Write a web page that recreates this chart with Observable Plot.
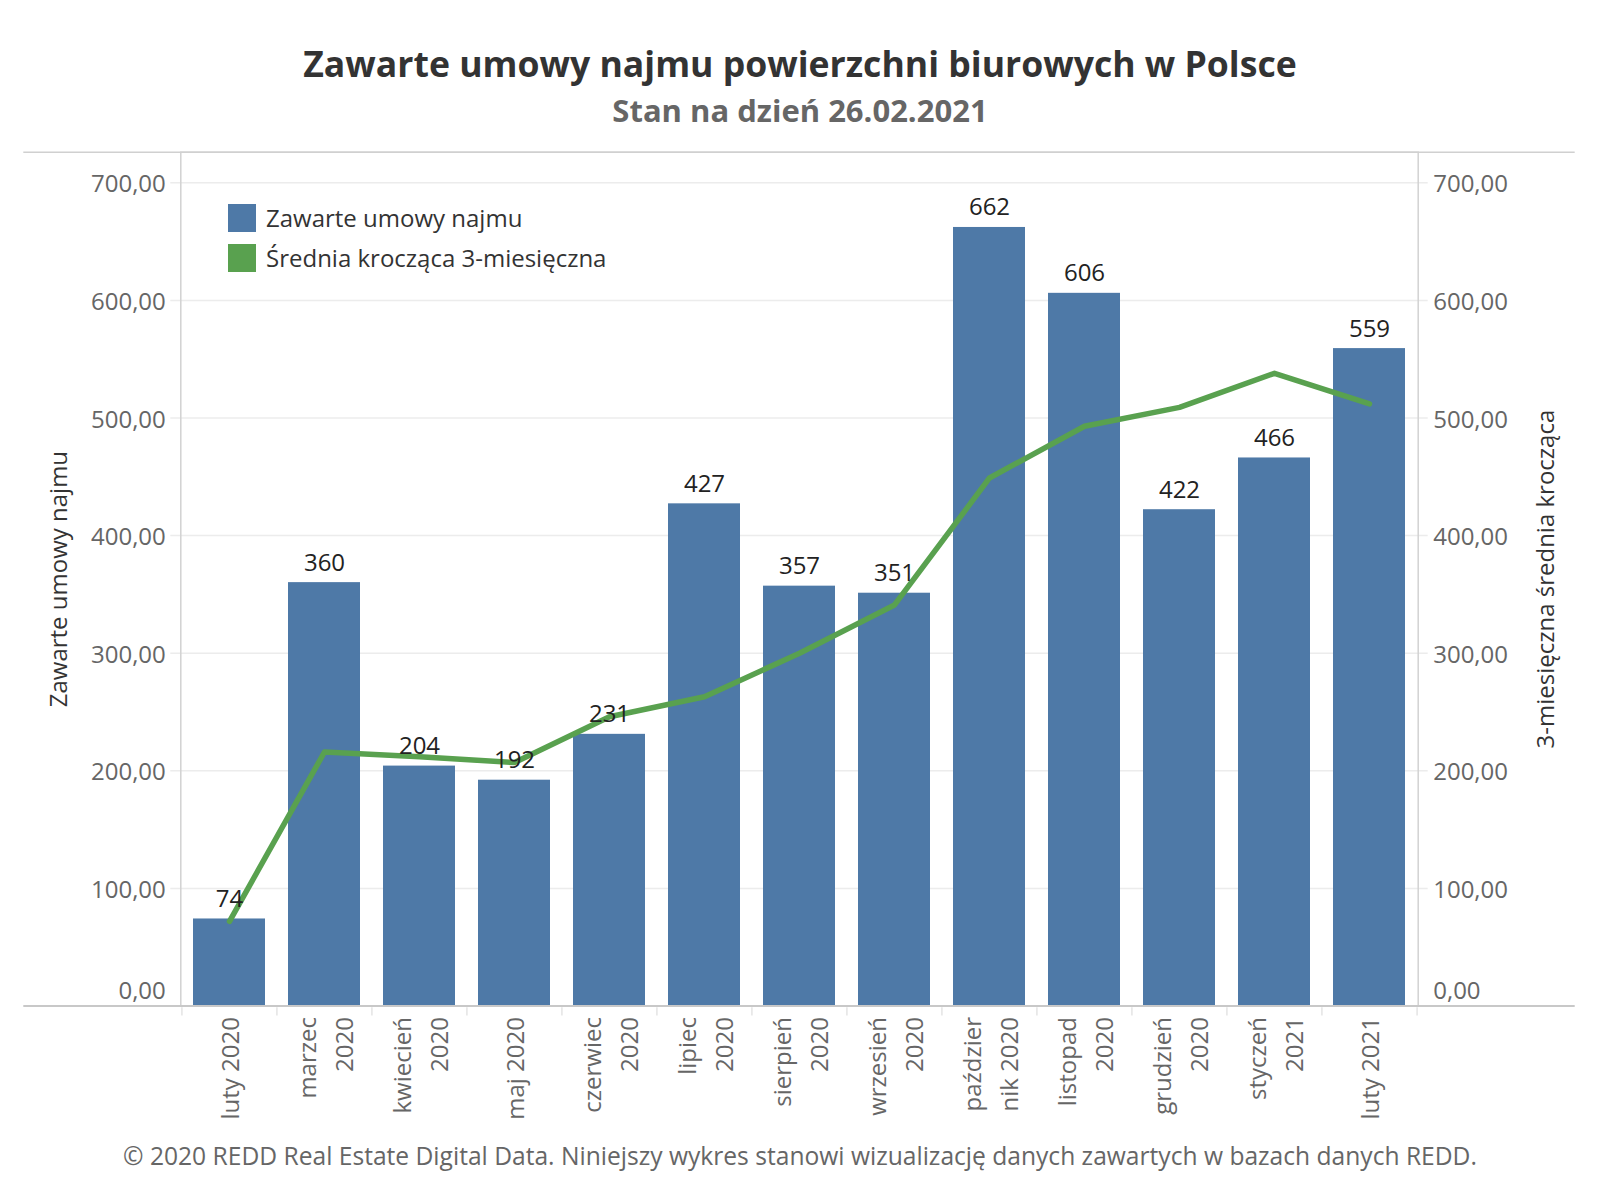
<!DOCTYPE html>
<html>
<head>
<meta charset="utf-8">
<script src="https://cdn.jsdelivr.net/npm/d3@7"></script>
<script src="https://cdn.jsdelivr.net/npm/@observablehq/plot@0.6"></script>
<style>
  html, body { margin: 0; padding: 0; background: #fff; }
  #wrap { position: relative; width: 1600px; height: 1200px; font-family: "Open Sans", sans-serif; overflow: hidden; }
  .abs { position: absolute; white-space: nowrap; }
  #title { left: 0; width: 1600px; top: 43px; text-align: center; font-size: 35.6px; line-height: 40px; font-weight: 700; color: #333; }
  #subtitle { left: 0; width: 1600px; top: 93px; text-align: center; font-size: 31px; line-height: 34px; font-weight: 700; color: #666; }
  #footer { left: 0; width: 1600px; top: 1141px; text-align: center; font-size: 24.6px; line-height: 30px; color: #666; }
  #chart { position: absolute; left: 0; top: 140px; }
  .lg-sw { position: absolute; width: 28px; height: 28px; }
  .lg-tx { position: absolute; font-size: 24px; line-height: 30px; color: #333; }
</style>
</head>
<body>
<div id="wrap">
  <div id="title" class="abs">Zawarte umowy najmu powierzchni biurowych w Polsce</div>
  <div id="subtitle" class="abs">Stan na dzień 26.02.2021</div>
  <div id="chart"></div>
  <div id="legend"></div>
  <div id="footer" class="abs">© 2020 REDD Real Estate Digital Data. Niniejszy wykres stanowi wizualizację danych zawartych w bazach danych REDD.</div>
</div>
<script>
// ---- data ----
const months = ["luty 2020", "marzec\n2020", "kwiecień\n2020", "maj 2020", "czerwiec\n2020", "lipiec\n2020",
  "sierpień\n2020", "wrzesień\n2020", "paździer\nnik 2020", "listopad\n2020", "grudzień\n2020", "styczeń\n2021", "luty 2021"];
const leases = [74, 360, 204, 192, 231, 427, 357, 351, 662, 606, 422, 466, 559];
const movingAvg = [72, 216, 212, 207, 246, 263, 300, 341, 449, 493, 509, 538, 512];
const yTicks = [0, 100, 200, 300, 400, 500, 600, 700];
const seriesNames = ["Zawarte umowy najmu", "Średnia krocząca 3-miesięczna"];
const seriesColors = ["#4e79a7", "#59a14f"];
const leftTitle = "Zawarte umowy najmu";
const rightTitle = "3-miesięczna średnia krocząca";

const data = months.map((m, i) => ({month: m, value: leases[i], avg: movingAvg[i]}));
const fmt = d3.formatLocale({decimal: ",", thousands: " ", grouping: [3], currency: ["", " zł"]}).format(".2f");

const W = 1600, H = 990;
const mL = 180.3, mR = 182.3, mT = 11.7, mB = 124.5;
const yMax = 726;
const step = (W - mL - mR) / months.length;

const chart = Plot.plot({
  width: W, height: H,
  marginLeft: mL, marginRight: mR, marginTop: mT, marginBottom: mB,
  style: {fontFamily: "Open Sans, sans-serif", fontSize: "24px", background: "white", overflow: "visible"},
  x: {domain: months, paddingInner: 0.24, paddingOuter: 0.12, axis: null},
  y: {domain: [0, yMax], axis: null},
  marks: [
    Plot.ruleY(yTicks.filter(d => d > 0), {stroke: "#ececec", strokeWidth: 1.5, insetLeft: -10, insetRight: -10}),
    Plot.frame({stroke: "#d2d2d2", strokeWidth: 1.5}),
    Plot.ruleY([yMax], {stroke: "#d0d0d0", strokeWidth: 1.5, insetLeft: -157, insetRight: -157}),
    Plot.barY(data, {x: "month", y: "value", fill: seriesColors[0]}),
    Plot.line(data, {x: "month", y: "avg", stroke: seriesColors[1], strokeWidth: 5.5, strokeLinecap: "round", strokeLinejoin: "round"}),
    Plot.text(data, {x: "month", y: "value", text: d => String(d.value), dy: -12, lineAnchor: "bottom", fill: "#222", fontSize: 24}),
    Plot.ruleY([0], {stroke: "#c8c8c8", strokeWidth: 2, insetLeft: -157, insetRight: -157}),
    // band dividers under the axis
    Plot.ruleX(months, {x: d => d, dx: -step / 2, y1: -1.5, y2: -8.5, stroke: "#e4e4e4", strokeWidth: 1.5}),
    Plot.ruleX(months.slice(-1), {x: d => d, dx: step / 2, y1: -1.5, y2: -8.5, stroke: "#e4e4e4", strokeWidth: 1.5}),
    // y tick labels (left & right)
    Plot.text(yTicks.filter(d => d > 0), {y: d => d, text: d => fmt(d), frameAnchor: "left", textAnchor: "end", dx: -15, dy: 2, fill: "#666", fontSize: 24}),
    Plot.text([0], {y: d => d, text: d => fmt(d), frameAnchor: "left", textAnchor: "end", dx: -15, dy: -15, fill: "#666", fontSize: 24}),
    Plot.text(yTicks.filter(d => d > 0), {y: d => d, text: d => fmt(d), frameAnchor: "right", textAnchor: "start", dx: 15, dy: 2, fill: "#666", fontSize: 24}),
    Plot.text([0], {y: d => d, text: d => fmt(d), frameAnchor: "right", textAnchor: "start", dx: 15, dy: -15, fill: "#666", fontSize: 24}),
    // x labels
    Plot.text(months, {x: d => d, text: d => d, frameAnchor: "bottom", rotate: -90, textAnchor: "end", lineAnchor: "middle", lineHeight: 1.55, dy: 11, dx: -2, fill: "#666", fontSize: 24}),
    // axis titles
    Plot.text([leftTitle], {text: d => d, frameAnchor: "left", textAnchor: "middle", rotate: -90, dx: -121, fill: "#333", fontSize: 24}),
    Plot.text([rightTitle], {text: d => d, frameAnchor: "right", textAnchor: "middle", rotate: -90, dx: 128, fill: "#333", fontSize: 24})
  ]
});
document.getElementById("chart").appendChild(chart);

// legend
const legend = document.getElementById("legend");
seriesNames.forEach((name, i) => {
  const sw = document.createElement("div");
  sw.className = "lg-sw";
  sw.style.left = "228px";
  sw.style.top = (204 + i * 40) + "px";
  sw.style.background = seriesColors[i];
  legend.appendChild(sw);
  const tx = document.createElement("div");
  tx.className = "lg-tx";
  tx.style.left = "266px";
  tx.style.top = (203 + i * 40) + "px";
  tx.textContent = name;
  legend.appendChild(tx);
});
</script>
</body>
</html>
